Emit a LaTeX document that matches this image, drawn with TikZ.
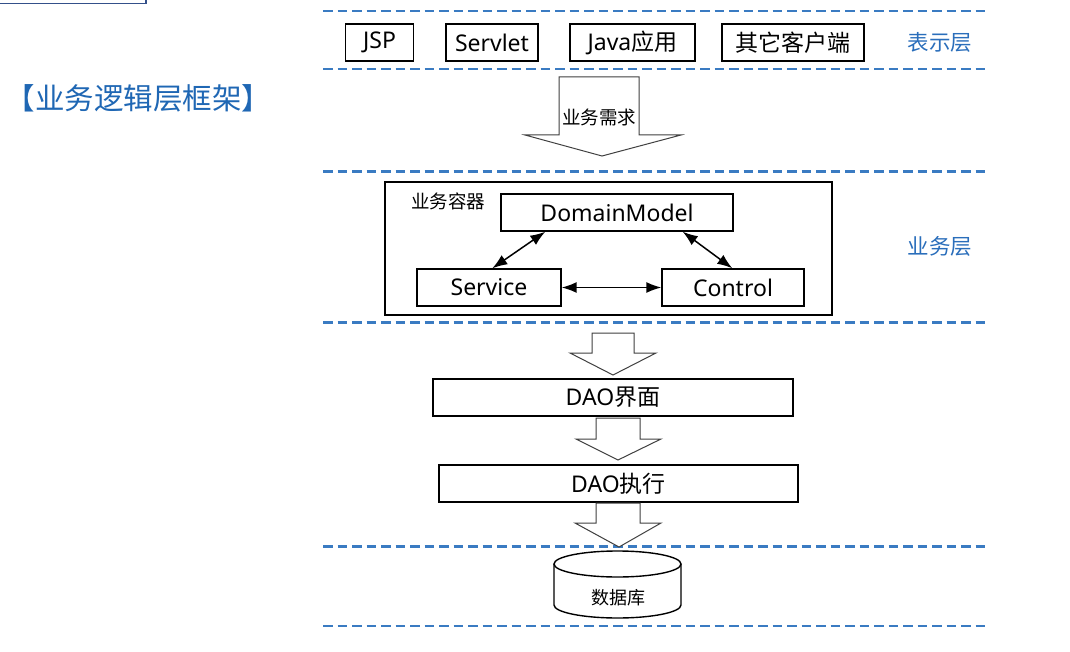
\documentclass[tikz,border=0pt]{standalone}
\usepackage{fontspec}
\setmainfont{Noto Sans}
\newfontfamily\cjk{Noto Sans CJK SC}
\usetikzlibrary{arrows.meta}
\definecolor{dashblue}{HTML}{3A7BC2}
\definecolor{labblue}{HTML}{2A6EBB}
\definecolor{titleblue}{HTML}{1F67B4}
\definecolor{navy}{HTML}{34508A}
\begin{document}
\begin{tikzpicture}[x=1pt,y=-1pt,
  layerline/.style={draw=dashblue,line width=2.1pt,dash pattern=on 9.5pt off 5pt},
  box/.style={draw=black,line width=1.4pt,fill=white,minimum height=37pt,inner sep=0pt,font=\fontsize{23}{26}\selectfont,text=black},
  hollow/.style={draw=black!75,line width=1pt,fill=white,line join=miter},
  dbl/.style={arrows={Latex[length=15pt,width=11pt]-Latex[length=15pt,width=11pt]},line width=1.5pt},
  layerlab/.style={text=labblue,font=\cjk\fontsize{21.5}{24}\selectfont,inner sep=0pt},
  smalllab/.style={font=\cjk\fontsize{18.5}{20}\selectfont,inner sep=0pt,text=black},
]
\useasboundingbox[fill=white] (0,0) rectangle (1070,652);

% partial box top-left
\draw[navy,line width=1.5pt] (-10,-10) rectangle (146,3.5);

% title
\node[text=titleblue,font=\cjk\fontsize{29.5}{32}\selectfont,inner sep=0pt,anchor=center] (title) at (138.5,98) {【业务逻辑层框架】};

% layer lines
\foreach \yy in {11,69,171.5,322.5,546.5,626} \draw[layerline] (323,\yy) -- (988,\yy);

% presentation layer
\node[box,minimum width=68pt] (jsp) at (379.5,42.5) {JSP};
\node[box,minimum width=92pt] (servlet) at (492,42.5) {Servlet};
\node[box,minimum width=125pt] (java) at (632.5,42.5) {Java{\cjk 应用}};
\node[box,minimum width=142pt] (other) at (793,42.5) {\cjk 其它客户端};
\node[layerlab] (lab1) at (940,42) {表示层};

% request arrow
\draw[hollow] (559,77) -- (639,77) -- (639,135) -- (681,135) -- (602,156) -- (525,135) -- (559,135) -- cycle;
\node[smalllab] (req) at (599,117) {业务需求};

% business container
\node[draw=black,line width=1.4pt,minimum width=447pt,minimum height=133pt,inner sep=0pt] (cont) at (608.5,248.5) {};
\node[smalllab] (contlab) at (448,201) {业务容器};
\node[box,minimum width=232pt] (dm) at (617,212.5) {DomainModel};
\node[box,minimum width=144pt] (svc) at (489,287.5) {Service};
\node[box,minimum width=142pt] (ctl) at (733,287.5) {Control};
\draw[dbl] ([xshift=45pt]dm.south west) -- ([xshift=76pt]svc.north west);
\draw[dbl] ([xshift=-51pt]dm.south east) -- ([xshift=71pt]ctl.north west);
\draw[dbl] (svc.east) -- (ctl.west);
\node[layerlab] (lab2) at (940,246) {业务层};

% DAO
\draw[hollow] (592,333) -- (634,333) -- (634,353) -- (656,353) -- (613,375) -- (570,353) -- (592,353) -- cycle;
\node[box,minimum width=360pt] (daoi) at (613,397.5) {DAO{\cjk 界面}};
\draw[hollow] (596,418) -- (640,418) -- (640,439) -- (661,439) -- (618,460) -- (576,439) -- (596,439) -- cycle;
\node[box,minimum width=359pt] (daoe) at (618.5,483.5) {DAO{\cjk 执行}};
\draw[hollow] (596,503) -- (640,503) -- (640,523) -- (661,523) -- (619,547) -- (575,523) -- (596,523) -- cycle;

% database cylinder
\draw[line width=1.4pt,fill=white] (554,564) -- (554,605) arc[start angle=180,end angle=360,x radius=63.5pt,y radius=13pt] -- (681,564);
\draw[line width=1.4pt,fill=white] (617.5,564) ellipse[x radius=63.5pt,y radius=13pt];
\node[font=\cjk\fontsize{18}{20}\selectfont,inner sep=0pt] (db) at (618,598) {数据库};
\end{tikzpicture}
\end{document}
